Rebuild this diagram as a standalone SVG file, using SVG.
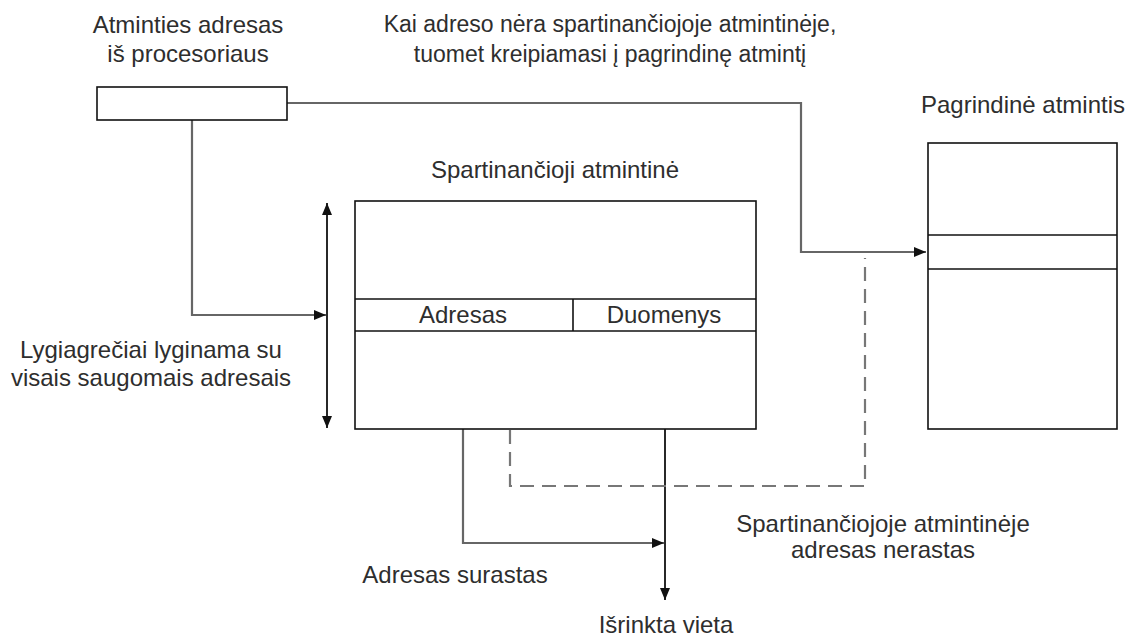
<svg xmlns="http://www.w3.org/2000/svg" width="1128" height="637" viewBox="0 0 1128 637">
  <defs>
    <marker id="arrow" viewBox="0 0 12 10" refX="12" refY="5" markerWidth="12" markerHeight="10" markerUnits="userSpaceOnUse" orient="auto-start-reverse">
      <path d="M0,0 L12,5 L0,10 Z" fill="#111"/>
    </marker>
    <style>
      .box { fill: #fff; stroke: #111; stroke-width: 1.6; }
      .sep { stroke: #111; stroke-width: 1.6; fill: none; }
      .wire { stroke: #666; stroke-width: 2.2; fill: none; }
      .wire-dark { stroke: #111; stroke-width: 1.8; fill: none; }
      .dash { stroke: #777; stroke-width: 2.2; fill: none; stroke-dasharray: 14 8; }
      .lbl { font-family: "Liberation Sans", Arial, sans-serif; font-size: 24px; fill: #2e2e2e; }
      .small { font-size: 23px; }
      .mid { text-anchor: middle; }
    </style>
  </defs>
  <rect width="1128" height="637" fill="#fff"/>

  <!-- connectors -->
  <g id="connectors">
    <!-- address from CPU to main memory -->
    <polyline class="wire" points="287,103 801,103 801,252 926,252" marker-end="url(#arrow)"/>
    <!-- address from CPU to cache comparator -->
    <polyline class="wire" points="192,120 192,315 326,315" marker-end="url(#arrow)"/>
    <!-- parallel compare range -->
    <line class="wire-dark" x1="327" y1="203" x2="327" y2="428" marker-start="url(#arrow)" marker-end="url(#arrow)"/>
    <!-- hit path -->
    <polyline class="wire" points="463,331 463,543 664,543" marker-end="url(#arrow)"/>
    <!-- selected data -->
    <line class="wire-dark" x1="665" y1="333" x2="665" y2="600" marker-start="url(#arrow)" marker-end="url(#arrow)"/>
    <!-- miss path -->
    <polyline class="dash" points="510,430 510,486 865,486 865,258"/>
  </g>

  <g id="cpu-address">
    <rect class="box" x="97" y="87" width="190" height="33"/>
    <text class="lbl mid" x="188" y="33">Atminties adresas</text>
    <text class="lbl mid" x="188" y="62">iš procesoriaus</text>
  </g>

  <g id="cache">
    <rect class="box" x="355" y="201" width="401" height="228"/>
    <line class="sep" x1="355" y1="299" x2="756" y2="299"/>
    <line class="sep" x1="355" y1="331" x2="756" y2="331"/>
    <line class="sep" x1="573" y1="299" x2="573" y2="331"/>
    <text class="lbl mid" x="463" y="323">Adresas</text>
    <text class="lbl mid" x="664" y="323">Duomenys</text>
    <text class="lbl mid" x="555" y="178">Spartinančioji atmintinė</text>
  </g>

  <g id="main-memory">
    <rect class="box" x="928" y="143" width="189" height="286"/>
    <line class="sep" x1="928" y1="235" x2="1117" y2="235"/>
    <line class="sep" x1="928" y1="269" x2="1117" y2="269"/>
    <text class="lbl mid" x="1023" y="113">Pagrindinė atmintis</text>
  </g>

  <g id="miss-note">
    <text class="lbl small mid" x="610" y="32">Kai adreso nėra spartinančiojoje atmintinėje,</text>
    <text class="lbl small mid" x="610" y="62">tuomet kreipiamasi į pagrindinę atmintį</text>
  </g>

  <g id="compare-note">
    <text class="lbl mid" x="151" y="358">Lygiagrečiai lyginama su</text>
    <text class="lbl mid" x="151" y="386">visais saugomais adresais</text>
  </g>

  <g id="hit-note">
    <text class="lbl mid" x="455" y="583">Adresas surastas</text>
  </g>

  <g id="result-note">
    <text class="lbl mid" x="666" y="633">Išrinkta vieta</text>
  </g>

  <g id="not-found-note">
    <text class="lbl mid" x="883" y="532">Spartinančiojoje atmintinėje</text>
    <text class="lbl mid" x="883" y="558">adresas nerastas</text>
  </g>
</svg>
